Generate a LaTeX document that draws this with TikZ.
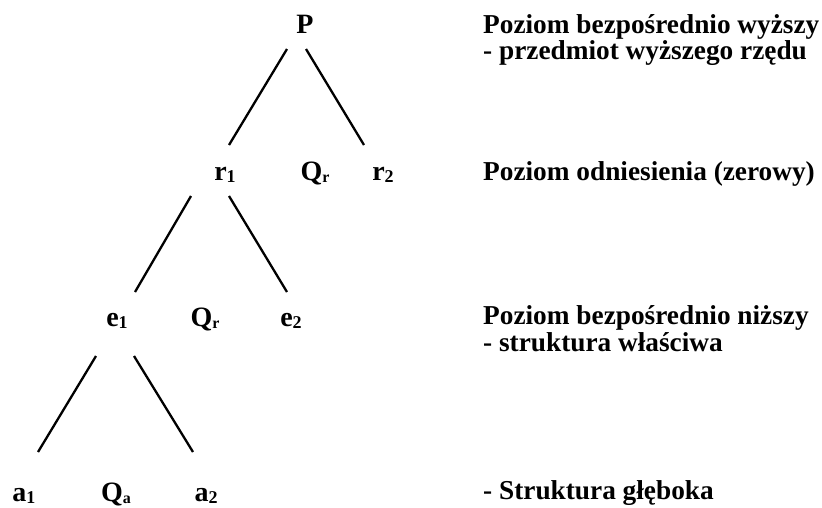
\documentclass[tikz,border=0pt]{standalone}
\usepackage{fontspec}
\setmainfont{Liberation Serif}
\usetikzlibrary{calc}
\newcommand\mysub[1]{\raisebox{-0.2ex}{\fontsize{18}{18}\selectfont #1}}
\newcommand\mysubs[1]{\raisebox{-0.2ex}{\fontsize{16}{16}\selectfont #1}}
\begin{document}
\begin{tikzpicture}[x=1pt,y=-1pt,
  lab/.style={inner sep=0pt,anchor=base,font=\fontsize{28}{28}\selectfont\bfseries},
  txt/.style={inner sep=0pt,anchor=base west,font=\fontsize{27.3}{27.3}\selectfont\bfseries},
  edge/.style={line width=2.3pt}]
\useasboundingbox (0,0) rectangle (822,507);
% tree labels
\node[lab] (P)  at (305,33)  {P};
\node[lab] (r1) at (225,180) {r\mysub{1}};
\node[lab] (Qr1) at (315,180) {Q\mysubs{r}};
\node[lab] (r2) at (383,180) {r\mysub{2}};
\node[lab] (e1) at (117,326) {e\mysub{1}};
\node[lab] (Qr2) at (205,326) {Q\mysubs{r}};
\node[lab] (e2) at (291,326) {e\mysub{2}};
\node[lab] (a1) at (24,501) {a\mysub{1}};
\node[lab] (Qa) at (116,501) {Q\mysubs{a}};
\node[lab] (a2) at (206,501) {a\mysub{2}};
% connectors
\draw[edge] ($(P.base)+(-18,16)$) -- ($(r1.base)+(4,-35)$);
\draw[edge] ($(P.base)+(1,16)$) -- ($(r2.base)+(-19,-35)$);
\draw[edge] ($(r1.base)+(-34,16)$) -- ($(e1.base)+(18,-34)$);
\draw[edge] ($(r1.base)+(4,16)$) -- ($(e2.base)+(-4,-34)$);
\draw[edge] ($(e1.base)+(-21,30)$) -- ($(a1.base)+(14,-49)$);
\draw[edge] ($(e1.base)+(17,30)$) -- ($(a2.base)+(-13,-49)$);
% right texts
\node[txt] (t1a) at (483,33)  {Poziom bezpośrednio wyższy};
\node[txt] (t1b) at (483,59)  {- przedmiot wyższego rzędu};
\node[txt] (t2)  at (483,180) {Poziom odniesienia (zerowy)};
\node[txt] (t3a) at (483,324) {Poziom bezpośrednio niższy};
\node[txt] (t3b) at (483,351) {- struktura właściwa};
\node[txt] (t4)  at (483,499) {- Struktura głęboka};
\end{tikzpicture}
\end{document}
